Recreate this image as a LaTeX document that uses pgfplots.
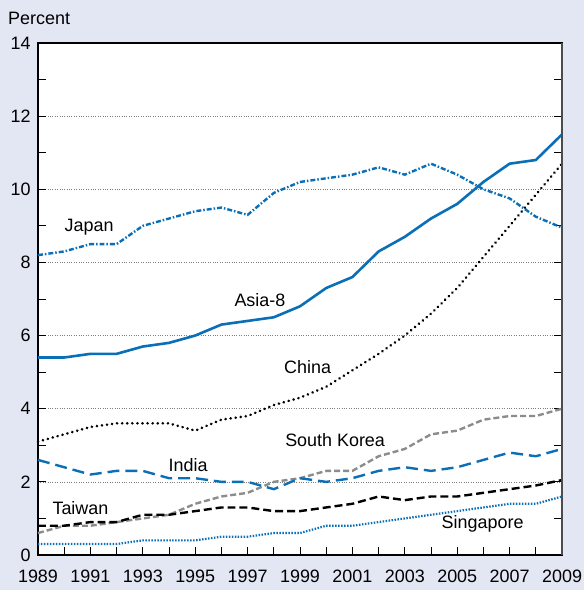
\documentclass[border=0pt]{standalone}
\usepackage{pgfplots}
\pgfplotsset{compat=1.18}
\usepackage{fontspec}
\setmainfont{Liberation Sans}
\definecolor{bgcol}{HTML}{E3E6F3}
\definecolor{sblue}{HTML}{0A6FB7}
\definecolor{kgray}{HTML}{8C8C8C}

\begin{document}
\begin{tikzpicture}[x=1bp,y=1bp]
\fill[bgcol] (-38,-35) rectangle (546,555);
\useasboundingbox (-38,-35) rectangle (546,555);
\begin{axis}[
  at={(0,0)}, anchor=south west,
  width=524bp, height=512bp, scale only axis,
  xmin=1989, xmax=2009, ymin=0, ymax=14,
  axis background/.style={fill=white},
  axis line style={line width=1.4pt},
  xtick={1989,1991,...,2009},
  minor xtick={1990,1992,...,2008},
  ytick={0,2,...,14},
  minor ytick={1,3,...,13},
  xticklabel style={/pgf/number format/1000 sep={}, yshift=-11bp},
  yticklabel style={xshift=-4bp},
  tick style={black, line width=0.8pt},
  major tick length=8bp, minor tick length=8bp,
  tick align=inside,
  xtick pos=bottom,
  ymajorgrids, grid style={dotted, gray, line width=0.6pt},
  tick label style={font=\fontsize{18}{20}\selectfont},
  /pgf/number format/assume math mode=true,
  every axis plot/.append style={line width=2.4pt},
  clip=false,
]
% Japan
\addplot[sblue, dash pattern=on 5pt off 2pt on 1.5pt off 2pt] coordinates {
(1989,8.2)(1990,8.3)(1991,8.5)(1992,8.5)(1993,9.0)(1994,9.2)(1995,9.4)(1996,9.5)(1997,9.3)(1998,9.9)(1999,10.2)(2000,10.3)(2001,10.4)(2002,10.6)(2003,10.4)(2004,10.7)(2005,10.4)(2006,10.0)(2007,9.75)(2008,9.25)(2009,8.95)};
% Asia-8
\addplot[sblue, solid, line width=2.6pt] coordinates {
(1989,5.4)(1990,5.4)(1991,5.5)(1992,5.5)(1993,5.7)(1994,5.8)(1995,6.0)(1996,6.3)(1997,6.4)(1998,6.5)(1999,6.8)(2000,7.3)(2001,7.6)(2002,8.3)(2003,8.7)(2004,9.2)(2005,9.6)(2006,10.2)(2007,10.7)(2008,10.8)(2009,11.5)};
% China
\addplot[black, line width=2.8pt, line cap=round, dash pattern=on 0.1pt off 5pt] coordinates {
(1989,3.1)(1990,3.3)(1991,3.5)(1992,3.6)(1993,3.6)(1994,3.6)(1995,3.4)(1996,3.7)(1997,3.8)(1998,4.1)(1999,4.3)(2000,4.6)(2001,5.05)(2002,5.5)(2003,6.0)(2004,6.6)(2005,7.3)(2006,8.15)(2007,9.0)(2008,9.85)(2009,10.7)};
% South Korea
\addplot[kgray, dash pattern=on 6pt off 3pt] coordinates {
(1989,0.6)(1990,0.8)(1991,0.8)(1992,0.9)(1993,1.0)(1994,1.1)(1995,1.4)(1996,1.6)(1997,1.7)(1998,2.0)(1999,2.1)(2000,2.3)(2001,2.3)(2002,2.7)(2003,2.9)(2004,3.3)(2005,3.4)(2006,3.7)(2007,3.8)(2008,3.8)(2009,4.0)};
% India
\addplot[sblue, dash pattern=on 12pt off 6pt] coordinates {
(1989,2.6)(1990,2.4)(1991,2.2)(1992,2.3)(1993,2.3)(1994,2.1)(1995,2.1)(1996,2.0)(1997,2.0)(1998,1.8)(1999,2.1)(2000,2.0)(2001,2.1)(2002,2.3)(2003,2.4)(2004,2.3)(2005,2.4)(2006,2.6)(2007,2.8)(2008,2.7)(2009,2.9)};
% Taiwan
\addplot[black, dash pattern=on 8pt off 4pt] coordinates {
(1989,0.8)(1990,0.8)(1991,0.9)(1992,0.9)(1993,1.1)(1994,1.1)(1995,1.2)(1996,1.3)(1997,1.3)(1998,1.2)(1999,1.2)(2000,1.3)(2001,1.4)(2002,1.6)(2003,1.5)(2004,1.6)(2005,1.6)(2006,1.7)(2007,1.8)(2008,1.9)(2009,2.05)};
% Singapore
\addplot[sblue, dash pattern=on 1.5pt off 1.5pt, line width=2.2pt] coordinates {
(1989,0.3)(1990,0.3)(1991,0.3)(1992,0.3)(1993,0.4)(1994,0.4)(1995,0.4)(1996,0.5)(1997,0.5)(1998,0.6)(1999,0.6)(2000,0.8)(2001,0.8)(2002,0.9)(2003,1.0)(2004,1.1)(2005,1.2)(2006,1.3)(2007,1.4)(2008,1.4)(2009,1.6)};

\draw[line width=1.4pt, black!70] (axis cs:2009,0) -- (axis cs:2009,14);

\begin{scope}[every node/.style={font=\fontsize{18}{20}\selectfont, inner sep=0pt}]
\node at (axis cs:1990.95,8.97) {Japan};
\node at (axis cs:1997.47,6.97) {Asia-8};
\node at (axis cs:1999.29,5.14) {China};
\node at (axis cs:2000.34,3.14) {South Korea};
\node at (axis cs:1994.73,2.46) {India};
\node at (axis cs:1990.62,1.27) {Taiwan};
\node at (axis cs:2005.97,0.85) {Singapore};
\node[anchor=base west] at ([xshift=-30bp]axis cs:1989,14.5) {Percent};
\end{scope}
\end{axis}
\end{tikzpicture}
\end{document}
